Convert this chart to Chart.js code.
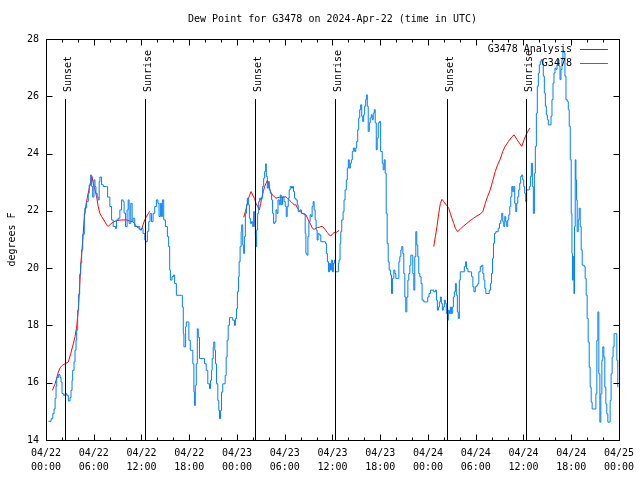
<!DOCTYPE html>
<html><head><meta charset="utf-8">
<script src="https://cdn.jsdelivr.net/npm/chart.js@4.4.1/dist/chart.umd.min.js"></script>
<style>html,body{margin:0;padding:0;background:#fff}#wrap{width:640px;height:480px}</style>
</head><body><div id="wrap"><canvas id="c" width="640" height="480"></canvas></div>
<script>
const titleText = 'Dew Point for G3478 on 2024-Apr-22 (time in UTC)';
const yAxisLabel = 'degrees F';
const seriesLabels = ['G3478 Analysis', 'G3478'];
const xTickLabels = [['04/22','00:00'],['04/22','06:00'],['04/22','12:00'],['04/22','18:00'],['04/23','00:00'],['04/23','06:00'],['04/23','12:00'],['04/23','18:00'],['04/24','00:00'],['04/24','06:00'],['04/24','12:00'],['04/24','18:00'],['04/25','00:00']];
const sunHours = [2.37, 12.38, 26.28, 36.30, 50.33, 60.34];
const sunLabels = ['Sunset','Sunrise','Sunset','Sunrise','Sunset','Sunrise'];

// hours since 04/22 00:00 UTC
const obsHours = [0.24,0.58,0.79,0.95,1.08,1.20,1.29,1.49,1.70,1.83,1.95,2.12,2.33,2.54,2.74,2.96,3.08,3.21,3.29,3.46,3.58,3.71,3.79,3.92,4.04,4.17,4.30,4.42,4.55,4.75,4.83,5.05,5.25,5.37,5.55,5.67,5.80,5.96,6.09,6.21,6.37,6.50,6.62,6.71,6.92,7.13,7.55,7.68,7.96,8.18,8.38,8.68,8.80,9.00,9.22,9.43,9.63,9.75,9.93,10.13,10.26,10.38,10.59,10.76,10.88,11.09,11.51,11.72,11.93,12.13,12.35,12.47,12.68,12.85,13.01,13.19,13.39,13.60,13.81,14.01,14.14,14.31,14.44,14.56,14.73,14.94,15.19,15.35,15.48,15.57,15.77,15.98,16.10,16.32,16.94,17.07,17.19,17.27,17.48,17.57,17.77,17.89,18.07,18.27,18.39,18.52,18.61,18.70,18.82,18.95,19.07,19.23,19.65,19.86,20.07,20.27,20.49,20.61,20.74,20.82,20.95,21.02,21.15,21.24,21.36,21.53,21.65,21.74,21.86,21.99,22.15,22.28,22.45,22.58,22.70,22.83,22.99,23.28,23.40,23.62,23.74,23.87,23.99,24.12,24.21,24.33,24.46,24.53,24.66,24.78,24.87,24.99,25.12,25.24,25.37,25.50,25.62,25.78,25.91,26.03,26.16,26.25,26.33,26.41,26.53,26.66,26.78,26.91,27.04,27.16,27.29,27.41,27.54,27.62,27.75,27.87,28.00,28.12,28.29,28.41,28.54,28.71,28.84,28.96,29.09,29.25,29.38,29.50,29.66,29.84,30.00,30.13,30.25,30.38,30.50,30.63,30.79,30.92,31.04,31.17,31.34,31.51,31.63,31.76,31.88,32.04,32.22,32.38,32.51,32.60,32.72,32.85,32.97,33.13,33.26,33.38,33.51,33.63,33.76,33.88,34.01,34.13,34.26,34.47,34.76,35.05,35.17,35.30,35.43,35.55,35.68,35.80,35.93,36.05,36.18,36.30,36.55,36.68,36.76,36.89,36.98,37.10,37.27,37.39,37.52,37.68,37.80,37.93,38.05,38.18,38.31,38.43,38.56,38.73,38.86,38.98,39.11,39.23,39.36,39.48,39.61,39.73,39.86,39.98,40.11,40.23,40.31,40.43,40.56,40.68,40.81,40.93,41.06,41.19,41.31,41.44,41.56,41.69,41.86,41.99,42.19,42.31,42.44,42.56,42.69,42.81,42.94,43.06,43.24,43.36,43.49,43.65,43.78,43.90,44.15,44.28,44.40,44.53,44.65,44.78,44.90,45.03,45.15,45.28,45.41,45.53,45.66,45.78,45.91,46.03,46.16,46.28,46.41,46.53,46.66,46.78,46.91,47.07,47.20,47.41,47.75,47.91,48.07,48.25,48.45,48.66,48.87,49.00,49.12,49.25,49.37,49.50,49.62,49.75,49.87,50.00,50.13,50.25,50.38,50.50,50.63,50.75,50.88,51.00,51.13,51.25,51.38,51.50,51.63,51.75,51.88,52.00,52.33,52.51,52.67,52.79,52.96,53.26,53.42,53.58,53.71,53.88,54.08,54.21,54.33,54.51,54.71,54.83,54.96,55.08,55.21,55.46,55.64,55.80,55.92,56.05,56.17,56.30,56.46,56.76,56.93,57.09,57.21,57.34,57.46,57.59,57.71,57.84,57.96,58.09,58.22,58.34,58.47,58.59,58.72,58.84,58.97,59.09,59.22,59.34,59.47,59.59,59.72,59.84,59.97,60.09,60.22,60.34,60.56,60.68,60.81,60.93,61.06,61.18,61.31,61.43,61.56,61.68,61.81,61.93,62.06,62.18,62.31,62.43,62.56,62.69,62.81,62.94,63.06,63.27,63.40,63.52,63.65,63.77,63.90,64.03,64.15,64.28,64.40,64.53,64.65,64.78,64.90,65.03,65.15,65.28,65.44,65.57,65.69,65.82,65.94,66.03,66.10,66.19,66.28,66.35,66.44,66.53,66.61,66.69,66.82,66.94,67.07,67.19,67.32,67.57,67.69,67.82,67.94,68.07,68.20,68.32,68.45,68.57,68.91,69.04,69.16,69.29,69.41,69.54,69.66,69.79,69.91,70.04,70.16,70.29,70.41,70.54,70.70,70.83,70.95,71.08,71.20,71.33,71.54,71.67,71.79];
const obsValues = [14.67,14.76,14.94,15.1,15.47,15.9,16.2,16.3,16.2,16.04,15.64,15.58,15.64,15.58,15.38,15.5,15.75,16.1,16.45,16.74,17.15,17.5,17.85,18.55,19.1,19.8,20.2,20.65,21.2,21.93,22.12,22.34,22.63,22.92,23.27,22.87,22.5,23.1,22.87,22.63,22.5,22.4,23.04,23.2,22.93,22.87,22.87,22.5,22.17,21.7,21.47,21.4,21.7,21.76,22.05,22.4,22.34,21.94,21.47,22.05,22.4,21.58,22.28,21.64,21.76,21.47,21.47,21.35,21.4,21.23,21.0,20.94,21.3,21.64,21.93,21.64,21.93,22.17,22.4,22.28,21.82,22.28,21.82,22.4,21.7,21.47,21.12,20.77,19.95,19.6,19.72,19.78,19.48,19.07,19.07,18.66,17.73,17.27,17.97,18.14,18.14,17.5,17.15,17.15,16.68,15.69,15.22,15.93,16.68,17.9,17.6,16.86,16.86,16.68,16.45,15.98,15.81,16.1,16.45,16.86,17.27,17.44,17.15,16.68,15.98,15.4,15.05,14.76,15.05,15.69,15.98,15.98,16.27,16.91,17.5,18.02,18.29,18.29,18.2,18.02,18.26,18.6,19.19,19.72,20.24,20.77,21.29,21.53,20.82,20.53,21.12,21.93,22.23,22.46,22.23,21.76,21.58,21.64,21.47,21.99,21.47,21.12,20.77,21.35,21.93,22.34,22.46,22.4,22.46,22.87,23.16,23.39,23.66,23.22,22.81,23.04,22.75,22.63,22.4,21.93,21.58,21.64,22.05,21.93,22.4,22.23,22.57,22.23,22.51,22.34,22.17,21.82,22.17,22.46,22.75,22.87,22.81,22.87,22.69,22.46,22.4,22.23,21.99,21.99,22.05,21.93,21.93,21.88,21.23,20.53,20.47,21.12,21.64,21.88,21.82,22.17,22.34,22.05,21.7,21.35,21.0,21.23,21.18,20.94,20.94,20.88,20.53,20.24,19.89,20.18,19.95,20.3,19.89,20.18,20.3,19.89,19.89,20.18,20.3,20.88,21.29,21.7,21.99,22.4,22.75,23.1,23.51,23.8,23.51,23.68,23.8,24.09,24.21,24.09,24.21,24.44,24.85,25.26,25.55,25.72,25.32,25.14,25.37,25.67,25.9,26.07,25.67,24.79,25.09,25.26,25.37,25.2,25.43,25.55,25.09,24.15,24.56,25.09,25.14,24.09,23.68,23.45,23.8,23.33,21.93,20.88,20.24,19.95,19.78,19.13,19.66,19.95,19.83,19.66,19.66,20.24,20.42,20.65,20.77,20.53,19.83,19.01,18.49,19.01,19.6,19.83,20.12,20.47,20.47,19.83,19.25,20.42,21.29,20.82,20.42,19.83,19.72,19.48,18.9,18.84,18.84,19.01,19.13,19.25,19.25,19.19,19.25,18.9,18.55,18.66,18.84,19.01,18.78,18.55,18.66,18.9,18.78,18.43,18.2,18.55,18.43,18.66,18.43,18.66,19.01,19.19,19.48,19.07,18.49,18.26,19.6,19.89,19.89,20.07,20.24,20.0,19.89,19.89,19.72,19.37,19.19,19.37,19.42,19.48,19.89,20.07,20.12,19.83,19.6,19.31,19.13,19.13,19.25,19.48,19.83,20.36,20.88,21.23,21.29,21.41,21.58,21.7,21.93,21.64,21.47,21.82,21.64,21.47,21.7,21.88,22.17,22.51,22.87,22.69,22.87,22.28,21.99,22.28,22.51,22.75,22.98,23.22,23.27,23.1,22.87,22.63,22.34,22.75,22.75,22.87,23.22,23.68,22.87,21.93,23.33,24.27,25.43,26.37,26.83,27.12,27.24,27.3,27.12,26.72,26.13,25.67,25.37,25.2,25.02,25.02,25.32,25.9,26.48,26.83,27.0,26.95,27.12,27.3,27.07,26.6,26.95,27.3,27.59,27.53,26.72,25.9,25.84,25.55,24.97,23.8,21.93,20.53,19.6,20.42,19.13,21.47,23.8,23.1,22.4,21.29,21.7,22.11,21.47,20.65,20.12,20.07,19.66,19.07,18.26,17.44,16.56,15.86,15.34,15.1,15.1,15.63,17.5,18.49,16.33,14.64,15.63,16.8,17.27,16.91,15.86,15.28,14.93,14.64,14.64,15.4,16.33,16.91,17.27,17.73,17.73,16.8,15.86];

// analysis: three runs separated by null values
const anaHours = [0.74,1.08,1.49,1.70,1.99,2.33,2.74,3.04,3.37,3.58,3.79,3.99,4.21,4.33,4.46,4.75,4.92,5.12,5.33,5.55,5.71,5.87,6.09,6.30,6.50,6.71,6.92,7.21,7.55,7.75,8.05,8.38,8.80,9.43,10.06,10.47,10.88,11.31,11.72,11.93,12.13,12.35,12.56,12.76,12.97,18.0,
24.78,24.99,25.16,25.33,25.50,25.71,25.91,26.12,26.33,26.53,26.75,26.91,27.08,27.25,27.41,27.59,27.75,27.91,28.09,28.25,28.41,28.62,28.84,29.25,29.66,30.09,30.29,30.50,30.72,30.92,31.13,31.34,31.54,31.76,31.97,32.17,32.38,32.60,32.80,33.01,33.22,33.42,33.63,33.85,34.05,34.26,34.47,34.67,34.89,35.10,35.30,35.51,35.73,35.93,36.14,36.35,36.55,36.76,42.0,
48.66,48.87,49.07,49.29,49.50,49.70,49.91,50.33,50.54,50.75,50.95,51.17,51.38,51.67,52.00,52.42,52.83,53.26,53.67,54.08,54.51,54.83,55.14,55.42,55.76,56.05,56.39,56.68,57.01,57.34,57.64,58.05,58.47,58.77,59.09,59.43,59.72,60.02,60.27,60.47,60.77];
const anaValues = [15.75,15.98,16.39,16.54,16.62,16.68,16.74,17.03,17.38,17.62,17.97,18.55,19.6,20.24,20.65,21.76,22.17,22.46,22.75,23.04,23.22,22.98,22.75,22.51,22.17,21.93,21.82,21.7,21.53,21.47,21.56,21.62,21.68,21.7,21.7,21.66,21.64,21.47,21.39,21.35,21.53,21.7,21.82,21.91,22.0,null,
21.79,21.99,22.17,22.4,22.54,22.69,22.57,22.46,22.28,22.17,22.05,22.28,22.51,22.69,22.87,22.98,23.08,22.93,22.75,22.63,22.57,22.51,22.46,22.49,22.49,22.51,22.45,22.4,22.34,22.28,22.23,22.23,22.11,22.03,21.96,21.93,21.91,21.88,21.76,21.64,21.53,21.41,21.37,21.41,21.44,21.44,21.47,21.47,21.41,21.33,21.26,21.18,21.14,21.21,21.26,21.26,21.29,21.33,null,
20.77,21.12,21.47,21.93,22.28,22.42,22.34,22.19,22.11,21.93,21.76,21.58,21.41,21.29,21.38,21.49,21.58,21.68,21.76,21.84,21.91,21.99,22.28,22.51,22.75,23.04,23.39,23.62,23.82,24.09,24.27,24.44,24.6,24.67,24.52,24.38,24.27,24.5,24.67,24.79,24.91];

const xMin = 0, xMax = 72, xStep = 6, xMinorStep = 2;
const yMin = 14, yMax = 28, yStep = 2;

const FONT = '10px "DejaVu Sans Mono", "Liberation Mono", monospace';
const RED = '#ff0000', BLUE = '#0080ff';

const zip = (xs, ys) => xs.slice(0, Math.min(xs.length, ys.length)).map((x, i) => ({x: x, y: ys[i]}));

const decor = {
  id: 'decor',
  beforeDatasetsDraw(chart) { chart.ctx.save(); chart.ctx.translate(0.5, 0.5); },
  afterDatasetsDraw(chart) {
    const ctx = chart.ctx; ctx.restore();
    const {left, right, top, bottom} = chart.chartArea;
    const xs = chart.scales.x, ys = chart.scales.y;
    ctx.save();
    ctx.strokeStyle = '#000'; ctx.fillStyle = '#000'; ctx.lineWidth = 1;
    const L = Math.round(left) + 0.5, R = Math.round(right) + 0.5, T = Math.round(top) + 0.5, B = Math.round(bottom) + 0.5;
    // ticks
    ctx.beginPath();
    for (let h = xMin; h <= xMax + 1e-9; h += xMinorStep) {
      const px = Math.round(xs.getPixelForValue(h)) + 0.5;
      const len = (Math.abs(h / xStep - Math.round(h / xStep)) < 1e-6) ? 6 : 3;
      ctx.moveTo(px, B); ctx.lineTo(px, B - len);
      ctx.moveTo(px, T); ctx.lineTo(px, T + len);
    }
    for (let v = yMin; v <= yMax + 1e-9; v += yStep) {
      const py = Math.round(ys.getPixelForValue(v)) + 0.5;
      ctx.moveTo(L, py); ctx.lineTo(L + 6, py);
      ctx.moveTo(R, py); ctx.lineTo(R - 6, py);
    }
    ctx.stroke();
    // sun lines
    ctx.font = FONT;
    sunHours.forEach((h, i) => {
      const px = Math.round(xs.getPixelForValue(h)) + 0.5;
      ctx.beginPath(); ctx.moveTo(px, top + 60); ctx.lineTo(px, B); ctx.stroke();
      ctx.save();
      ctx.translate(px + 5, top + 53);
      ctx.rotate(-Math.PI / 2);
      ctx.textAlign = 'left'; ctx.textBaseline = 'alphabetic';
      ctx.fillText(sunLabels[i], 0, 0);
      ctx.restore();
    });
    // frame
    ctx.strokeRect(L, T, R - L, B - T);
    // legend
    ctx.textAlign = 'right'; ctx.textBaseline = 'middle';
    const colors = [RED, BLUE];
    seriesLabels.forEach((lab, i) => {
      const y = top + 10 + i * 14;
      ctx.fillStyle = '#000';
      ctx.fillText(lab, right - 47, y);
      ctx.strokeStyle = colors[i];
      ctx.beginPath(); ctx.moveTo(right - 39, Math.round(y) + 0.5); ctx.lineTo(right - 11, Math.round(y) + 0.5); ctx.stroke();
    });
    // title & y label
    ctx.fillStyle = '#000';
    ctx.textAlign = 'center'; ctx.textBaseline = 'middle';
    ctx.fillText(titleText, (left + right) / 2, 19);
    ctx.save();
    ctx.translate(12, (top + bottom) / 2);
    ctx.rotate(-Math.PI / 2);
    ctx.fillText(yAxisLabel, 0, 0);
    ctx.restore();
    ctx.restore();
  }
};

new Chart(document.getElementById('c'), {
  type: 'line',
  data: {
    datasets: [
      { label: seriesLabels[1], data: zip(obsHours, obsValues), borderColor: BLUE, borderWidth: 1, pointRadius: 0, stepped: true, order: 0, fill: false },
      { label: seriesLabels[0], data: zip(anaHours, anaValues), borderColor: RED, borderWidth: 1, pointRadius: 0, spanGaps: false, order: 1, fill: false, tension: 0 }
    ]
  },
  options: {
    responsive: false, animation: false, devicePixelRatio: 1,
    layout: { padding: { top: 39, right: 19, left: 0, bottom: 0 } },
    plugins: { legend: { display: false }, title: { display: false }, tooltip: { enabled: false } },
    scales: {
      x: {
        type: 'linear', min: xMin, max: xMax,
        grid: { display: false, drawTicks: false }, border: { display: false },
        afterFit: (s) => { s.height = 40; },
        ticks: { stepSize: xStep, autoSkip: false, maxRotation: 0, minRotation: 0, padding: 6, color: '#000',
          font: { family: '"DejaVu Sans Mono"', size: 10, lineHeight: 1.4 },
          callback: (v) => xTickLabels[Math.round(v / xStep)] }
      },
      y: {
        type: 'linear', min: yMin, max: yMax,
        grid: { display: false, drawTicks: false }, border: { display: false },
        afterFit: (s) => { s.width = 46; },
        ticks: { stepSize: yStep, padding: 7, color: '#000', font: { family: '"DejaVu Sans Mono"', size: 10 },
          callback: (v) => String(v) }
      }
    }
  },
  plugins: [decor]
});
</script>
</body></html>
